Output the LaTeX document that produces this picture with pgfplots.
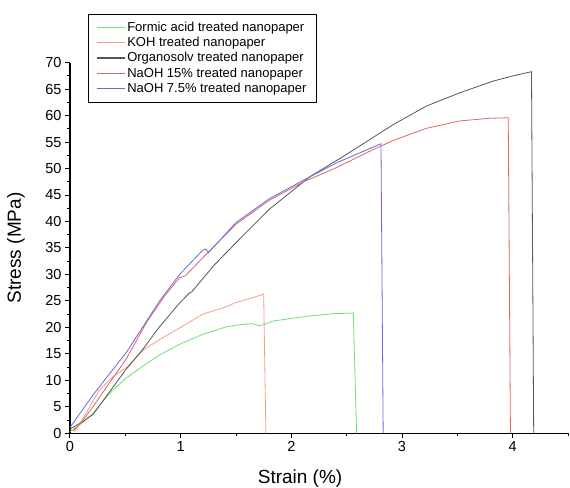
\documentclass[border=0pt]{standalone}
\usepackage{pgfplots}
\pgfplotsset{compat=1.18}
\usepackage{fontspec}
\setmainfont{Liberation Sans}
\definecolor{cformic}{RGB}{110,225,110}
\definecolor{ckoh}{RGB}{242,160,140}
\definecolor{corg}{RGB}{85,85,85}
\definecolor{cnaoh}{RGB}{225,100,100}
\definecolor{cnaohb}{RGB}{105,105,220}
\begin{document}
\begin{tikzpicture}
\begin{axis}[
  scale only axis, width=498pt, height=370.6pt,
  xmin=0, xmax=4.5, ymin=0, ymax=70,
  axis x line=bottom, axis y line=left,
  axis line style={-, line width=1.1pt},
  xtick={0,1,2,3,4}, minor xtick={0.5,1.5,2.5,3.5,4.5},
  ytick={0,5,...,70}, minor ytick={2.5,7.5,...,67.5},
  tick align=outside, major tick length=5pt, minor tick length=3pt,
  every tick/.style={black, line width=1pt},
  tick label style={font=\fontsize{14.5}{16}\selectfont},
  /pgf/number format/assume math mode=true,
  xlabel={Strain (\%)}, ylabel={Stress (MPa)},
  every axis x label/.style={at={(axis description cs:0.462,0)}, anchor=center,
    yshift=-45pt, font=\fontsize{19}{21}\selectfont},
  every axis y label/.style={at={(axis description cs:-0.1085,0.5)}, anchor=center,
    rotate=90, font=\fontsize{19}{21}\selectfont},
  legend cell align=left,
  legend style={at={(axis description cs:0.0361,1.1314)}, anchor=north west,
    font=\fontsize{13}{15}\selectfont, row sep=0.5pt, inner xsep=8pt, inner ysep=5.5pt},
  legend image code/.code={\draw[mark repeat=2,mark phase=2,#1]
    plot coordinates {(0pt,0pt) (14pt,0pt) (28pt,0pt)};},
  legend image post style={line width=1.1pt},
  every axis plot/.append style={line width=0.8pt},
]
\coordinate (bl) at (rel axis cs:0,0);
\coordinate (tr) at (rel axis cs:1,1);
\addplot[draw=cformic] coordinates {
(0.0,0.3) (0.1,1.8) (0.2,3.6) (0.36,7.6) (0.5,10.3) (0.66,12.7) (0.8,14.7)
(0.99,16.8) (1.2,18.7) (1.41,20.1) (1.53,20.5) (1.65,20.7) (1.71,20.3) (1.75,20.5)
(1.835,21.2) (2.0,21.7) (2.14,22.1) (2.38,22.6) (2.56,22.7) (2.59,0)};
\addlegendentry{Formic acid treated nanopaper}
\addplot[draw=ckoh] coordinates {
(0.04,0.3) (0.08,1.5) (0.15,4.0) (0.27,8.3) (0.4,10.9) (0.51,12.4) (0.66,15.7)
(0.81,17.7) (0.99,19.9) (1.2,22.5) (1.41,23.9) (1.5,24.7) (1.6,25.3) (1.71,26.0)
(1.75,26.3) (1.77,0)};
\addlegendentry{KOH treated nanopaper}
\addplot[draw=corg] coordinates {
(0.0,0.8) (0.1,2.0) (0.21,3.6) (0.36,7.9) (0.5,11.9) (0.66,15.9) (0.8,19.9)
(0.99,24.6) (1.08,26.5) (1.1,26.7) (1.3,31.7) (1.5,36.0) (1.8,42.3) (2.17,48.5)
(2.47,52.3) (2.71,55.5) (2.92,58.3) (3.22,61.8) (3.52,64.3) (3.82,66.5) (4.0,67.5)
(4.17,68.3) (4.19,0)};
\addlegendentry{Organosolv treated nanopaper}
\addplot[draw=cnaoh] coordinates {
(0.03,0.5) (0.1,2.0) (0.21,5.1) (0.35,9.3) (0.51,14.1) (0.69,20.9) (0.85,25.8)
(0.99,29.4) (1.04,29.7) (1.23,33.8) (1.5,39.5) (1.8,44.0) (2.11,47.5) (2.41,50.2)
(2.71,53.3) (2.92,55.3) (3.22,57.6) (3.52,59.0) (3.79,59.5) (3.96,59.6) (3.98,0)};
\addlegendentry{NaOH 15\% treated nanopaper}
\addplot[draw=cnaohb] coordinates {
(0.0,1.1) (0.21,7.3) (0.51,15.3) (0.81,25.0) (0.99,30.0) (1.1,32.4) (1.2,34.6)
(1.23,34.8) (1.25,34.1) (1.5,39.8) (1.8,44.3) (2.11,47.8) (2.41,51.1) (2.71,53.8)
(2.81,54.7) (2.83,0)};
\addlegendentry{NaOH 7.5\% treated nanopaper}
\end{axis}
\pgfresetboundingbox
\path[use as bounding box] ([xshift=-70pt,yshift=-54.7pt]bl) rectangle ([xshift=2pt,yshift=62.7pt]tr);
\end{tikzpicture}
\end{document}
